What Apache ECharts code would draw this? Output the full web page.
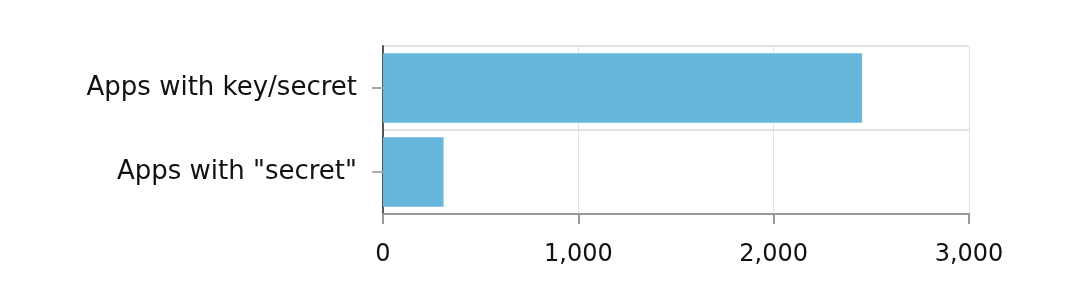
<!DOCTYPE html>
<html><head><meta charset="utf-8">
<script src="https://cdn.jsdelivr.net/npm/echarts@6/dist/echarts.min.js"></script>
<style>html,body{margin:0;padding:0;background:#fff}#c{width:1086px;height:300px}</style>
</head><body><div id="c"></div>
<script>
const categories = ['Apps with "secret"', 'Apps with key/secret'];
const values = [310, 2452];
const xTicks = [0, 1000, 2000, 3000];

const chart = echarts.init(document.getElementById('c'), null, {renderer: 'canvas'});
chart.setOption({
  animation: false,
  grid: {left: 383, right: 117, top: 46, bottom: 86, containLabel: false},
  xAxis: {
    type: 'value', min: xTicks[0], max: xTicks[xTicks.length - 1], interval: 1000,
    axisLine: {show: true, lineStyle: {color: '#999', width: 2}},
    axisTick: {show: true, length: 10, lineStyle: {color: '#999', width: 2}},
    axisLabel: {margin: 29, fontFamily: 'DejaVu Sans', fontSize: 24, color: '#111',
      formatter: v => v.toLocaleString('en-US')},
    splitLine: {show: true, lineStyle: {color: '#e3e3e3', width: 1}}
  },
  yAxis: {
    type: 'category', data: categories,
    axisLine: {show: true, lineStyle: {color: '#555', width: 2}},
    axisTick: {show: true, alignWithLabel: true, length: 11, lineStyle: {color: '#aaa', width: 2}},
    axisLabel: {margin: 26, fontFamily: 'DejaVu Sans', fontSize: 26, color: '#111'},
    splitLine: {show: true, lineStyle: {color: '#e3e3e3', width: 2}}
  },
  series: [{
    type: 'bar', data: values, barCategoryGap: '17%',
    itemStyle: {color: '#67b6dc'}, z: 1
  }]
});
</script></body></html>
